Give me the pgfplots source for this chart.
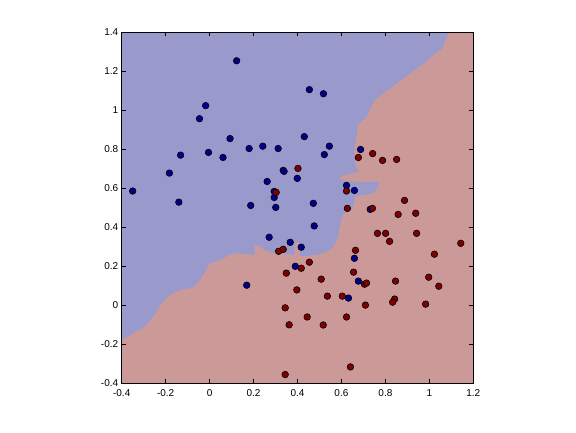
\documentclass[border=0pt]{standalone}
\usepackage{pgfplots}
\pgfplotsset{compat=1.18}
\usepackage{fontspec}
\setmainfont{Liberation Sans}
\definecolor{bgblue}{RGB}{153,153,204}
\definecolor{bgred}{RGB}{204,153,153}
\definecolor{ptblue}{RGB}{0,0,143}
\definecolor{ptred}{RGB}{128,0,0}
\begin{document}
\begin{tikzpicture}[x=1pt,y=1pt]
\begin{axis}[
  at={(0,0)}, anchor=south west,
  scale only axis, width=351.6pt, height=351pt,
  xmin=-0.4, xmax=1.2, ymin=-0.4, ymax=1.4,
  xtick={-0.4,-0.2,0,0.2,0.4,0.6,0.8,1,1.2},
  ytick={-0.4,-0.2,0,0.2,0.4,0.6,0.8,1,1.2,1.4},
  xticklabels={-0.4,-0.2,0,0.2,0.4,0.6,0.8,1,1.2},
  yticklabels={-0.4,-0.2,0,0.2,0.4,0.6,0.8,1,1.2,1.4},
  tick align=inside, major tick length=4pt,
  tick style={black, line width=0.6pt},
  axis line style={black, line width=1pt},
  ticklabel style={font=\fontsize{10}{12}\selectfont},
  xticklabel style={yshift=-2.5pt},
  /pgf/number format/assume math mode=true,
  axis on top=true,
  clip=true,
]
\addplot[fill=bgred, draw=none] coordinates {(-0.4,-0.4) (1.2,-0.4) (1.2,1.4) (-0.4,1.4)} -- cycle;
\addplot[fill=bgblue, draw=none] coordinates {
(-0.4,1.4) (1.088,1.4) (1.073,1.358) (1.058,1.316) (1.035,1.298) (1.005,1.273)
(0.982,1.247) (0.951,1.222) (0.921,1.196) (0.890,1.170) (0.860,1.145) (0.830,1.119)
(0.799,1.094) (0.769,1.068) (0.746,1.042) (0.738,1.026) (0.728,1.0) (0.715,0.966)
(0.688,0.940) (0.673,0.923) (0.670,0.872) (0.662,0.821) (0.658,0.795) (0.662,0.727)
(0.670,0.702) (0.677,0.684) (0.600,0.665) (0.590,0.650) (0.620,0.637) (0.685,0.633)
(0.769,0.633) (0.769,0.608) (0.746,0.574) (0.693,0.565) (0.662,0.557) (0.658,0.520)
(0.645,0.490) (0.606,0.463) (0.594,0.412) (0.586,0.361) (0.578,0.327) (0.563,0.301)
(0.548,0.284) (0.520,0.270) (0.490,0.258) (0.430,0.252) (0.410,0.255) (0.408,0.322)
(0.388,0.322) (0.386,0.258) (0.365,0.262) (0.304,0.267) (0.289,0.267) (0.259,0.280)
(0.236,0.293) (0.228,0.304) (0.205,0.309) (0.205,0.258) (0.152,0.263) (0.114,0.267)
(0.091,0.258) (0.061,0.241) (0.031,0.224) (0.000,0.216) (-0.015,0.182) (-0.038,0.139)
(-0.061,0.105) (-0.084,0.088) (-0.122,0.083) (-0.152,0.071) (-0.190,0.045) (-0.205,0.028)
(-0.228,-0.006) (-0.251,-0.049) (-0.274,-0.083) (-0.305,-0.117) (-0.335,-0.134)
(-0.365,-0.156) (-0.400,-0.176)
} -- cycle;
\addplot[only marks, mark=*, mark size=3.3pt, mark options={fill=ptblue, draw=black, line width=0.6pt}] coordinates {
(-0.350,0.586) (-0.183,0.678) (-0.132,0.770) (-0.140,0.529) (-0.046,0.957)
(-0.018,1.024) (-0.005,0.784) (0.061,0.758) (0.093,0.855) (0.123,1.254)
(0.180,0.804) (0.242,0.816) (0.312,0.804) (0.335,0.692) (0.339,0.687)
(0.262,0.635) (0.399,0.651) (0.294,0.584) (0.294,0.553) (0.187,0.512)
(0.301,0.502) (0.271,0.349) (0.367,0.323) (0.417,0.298) (0.390,0.200)
(0.169,0.103) (0.454,1.106) (0.518,1.085) (0.431,0.865) (0.545,0.816)
(0.522,0.773) (0.687,0.799) (0.623,0.615) (0.659,0.589) (0.472,0.523)
(0.731,0.492) (0.476,0.407) (0.659,0.241) (0.677,0.124) (0.632,0.037)
};
\addplot[only marks, mark=*, mark size=3.3pt, mark options={fill=ptred, draw=black, line width=0.6pt}] coordinates {
(0.402,0.702) (0.303,0.579) (0.314,0.277) (0.335,0.287) (0.349,0.165)
(0.397,0.079) (0.344,-0.013) (0.362,-0.100) (0.344,-0.355) (0.677,0.758)
(0.742,0.778) (0.787,0.743) (0.851,0.748) (0.623,0.586) (0.887,0.538)
(0.627,0.497) (0.741,0.497) (0.858,0.466) (0.938,0.472) (0.764,0.369)
(0.801,0.369) (0.942,0.369) (0.819,0.328) (1.143,0.318) (0.664,0.282)
(1.023,0.262) (0.454,0.221) (0.417,0.190) (0.655,0.170) (0.508,0.134)
(0.705,0.108) (0.714,0.114) (0.846,0.124) (0.997,0.144) (1.043,0.098)
(0.536,0.047) (0.604,0.047) (0.842,0.032) (0.833,0.016) (0.709,0.001)
(0.983,0.006) (0.444,-0.060) (0.623,-0.060) (0.517,-0.101) (0.641,-0.316)
};
\end{axis}
\pgfresetboundingbox
\path (-121.7,-48.7) rectangle (454.3,383.3);
\end{tikzpicture}
\end{document}
